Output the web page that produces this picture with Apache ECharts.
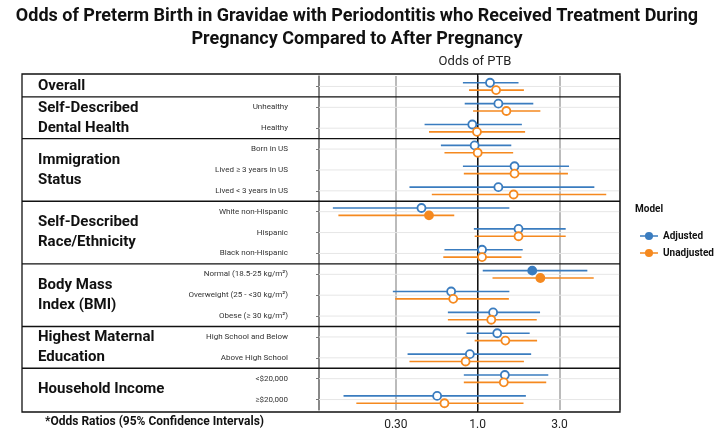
<!DOCTYPE html>
<html>
<head>
<meta charset="utf-8">
<script src="https://cdn.jsdelivr.net/npm/echarts@6/dist/echarts.min.js"></script>
<style>html,body{margin:0;padding:0;background:#fff}#c{width:714px;height:431px}</style>
</head>
<body>
<div id="c"></div>
<script>
// ---------- data ----------
const rowLabels = ['', 'Unhealthy', 'Healthy', 'Born in US', 'Lived \u2265 3 years in US', 'Lived < 3 years in US',
  'White non-Hispanic', 'Hispanic', 'Black non-Hispanic',
  'Normal (18.5-25 kg/m\u00b2)', 'Overweight (25 - <30 kg/m\u00b2)', 'Obese (\u2265 30 kg/m\u00b2)',
  'High School and Below', 'Above High School', '<$20,000', '\u2265$20,000'];
const groupNames = ['Overall', 'Self-Described\nDental Health', 'Immigration\nStatus', 'Self-Described\nRace/Ethnicity',
  'Body Mass\nIndex (BMI)', 'Highest Maternal\nEducation', 'Household Income'];
const groupSizes = [1, 2, 3, 3, 3, 2, 2];

const adjEst = [1.18, 1.32, 0.93, 0.96, 1.64, 1.32, 0.47, 1.73, 1.06, 2.08, 0.70, 1.23, 1.30, 0.90, 1.44, 0.58];
const adjLo  = [0.82, 0.84, 0.49, 0.61, 0.82, 0.40, 0.143, 0.95, 0.64, 1.07, 0.32, 0.67, 0.86, 0.39, 0.83, 0.165];
const adjHi  = [1.73, 2.11, 1.81, 1.57, 3.41, 4.79, 1.53, 3.26, 1.83, 4.36, 1.53, 2.31, 2.01, 2.05, 2.58, 1.91];
const adjSig = [0, 0, 0, 0, 0, 0, 0, 0, 0, 1, 0, 0, 0, 0, 0, 0];

const unadjEst = [1.28, 1.47, 0.99, 1.00, 1.64, 1.62, 0.52, 1.73, 1.06, 2.32, 0.72, 1.20, 1.45, 0.85, 1.42, 0.64];
const unadjLo  = [0.89, 0.94, 0.52, 0.64, 0.83, 0.54, 0.154, 0.96, 0.63, 1.22, 0.33, 0.67, 0.96, 0.40, 0.83, 0.196];
const unadjHi  = [1.86, 2.32, 1.89, 1.61, 3.36, 5.62, 0.73, 3.26, 1.80, 4.75, 1.52, 2.21, 2.22, 1.86, 2.51, 1.85];
const unadjSig = [0, 0, 0, 0, 0, 0, 1, 0, 0, 1, 0, 0, 0, 0, 0, 0];

const tickValues = [1 / 3, 1, 3];
const tickLabels = ['0.30', '1.0', '3.0'];

const seriesNames = ['Adjusted', 'Unadjusted'];
// ---------- style ----------
const BLUE = '#3a7cbf', ORANGE = '#f5891f';
const FONT = 'Roboto';
const G = {left: 319, right: 620, top: 76, bottom: 410};
const FRAME = {left: 22, top: 74, right: 620, bottom: 412};

function build(est, lo, hi, sig) {
  return est.map((e, i) => [i, e, lo[i], hi[i], sig[i]]);
}
const adjData = build(adjEst, adjLo, adjHi, adjSig);
const unadjData = build(unadjEst, unadjLo, unadjHi, unadjSig);

let gStart = 0;
const groupData = groupSizes.map((s, i) => { const d = [gStart, s, i]; gStart += s; return d; });

function makeRender(color, dir) {
  return function (params, api) {
    const cs = params.coordSys;
    const band = cs.height / rowLabels.length;
    const off = dir * band * 0.176;
    const row = api.value(0);
    const pE = api.coord([api.value(1), row]);
    const pL = api.coord([api.value(2), row]);
    const pH = api.coord([api.value(3), row]);
    const y = pE[1] + off;
    const filled = api.value(4) === 1;
    return {
      type: 'group',
      children: [
        {type: 'line', shape: {x1: pL[0], y1: y, x2: pH[0], y2: y}, style: {stroke: color, lineWidth: 1.6}},
        {type: 'circle', shape: {cx: pE[0], cy: y, r: 4}, style: {fill: filled ? color : '#fff', stroke: color, lineWidth: 1.8}}
      ]
    };
  };
}

function renderGroups(params, api) {
  const cs = params.coordSys;
  const band = cs.height / rowLabels.length;
  const start = api.value(0), size = api.value(1), gi = api.value(2);
  const yTop = api.coord([1, start])[1] - band / 2;
  const yBot = yTop + size * band;
  const children = [];
  for (let r = start; r < start + size; r++) {
    const yc = api.coord([1, r])[1];
    children.push({type: 'line', shape: {x1: cs.x, y1: yc, x2: cs.x + cs.width, y2: yc}, style: {stroke: '#e6e6e6', lineWidth: 1}});
  }
  if (gi < groupSizes.length - 1) {
    children.push({type: 'line', shape: {x1: FRAME.left, y1: yBot, x2: FRAME.right, y2: yBot}, style: {stroke: '#111', lineWidth: 1.3}});
  }
  children.push({type: 'text', style: {text: groupNames[gi], x: 38, y: (yTop + yBot) / 2, fill: '#111',
    fontSize: 15, fontWeight: 'bold', fontFamily: FONT, verticalAlign: 'middle', align: 'left', lineHeight: 20}});
  if (gi === 0) {
    const x1 = api.coord([1, 0])[0];
    children.push({type: 'line', shape: {x1: x1, y1: FRAME.top, x2: x1, y2: FRAME.bottom}, style: {stroke: '#111', lineWidth: 1.4}, z2: 5});
  }
  return {type: 'group', children: children};
}

const legendIcon = 'path://M0,4.2h20v1.6h-20z M5.5,5a4.5,4.5 0 1,1 9,0a4.5,4.5 0 1,1 -9,0z';

const chart = echarts.init(document.getElementById('c'), null, {renderer: 'canvas'});
chart.setOption({
  animation: false,
  textStyle: {fontFamily: FONT},
  title: {
    text: 'Odds of Preterm Birth in Gravidae with Periodontitis who Received Treatment During\nPregnancy Compared to After Pregnancy',
    left: 'center', top: 0,
    textStyle: {fontSize: 18, fontWeight: 'bold', color: '#111', lineHeight: 23, fontFamily: FONT}
  },
  legend: {
    orient: 'vertical', left: 635, top: 226, itemGap: 7, itemWidth: 18, itemHeight: 9,
    data: [{name: 'Adjusted', icon: legendIcon}, {name: 'Unadjusted', icon: legendIcon}],
    textStyle: {fontSize: 10, fontWeight: 'bold', color: '#111', fontFamily: FONT}
  },
  graphic: [
    {type: 'rect', shape: {x: FRAME.left, y: FRAME.top, width: FRAME.right - FRAME.left, height: FRAME.bottom - FRAME.top},
      style: {fill: 'none', stroke: '#111', lineWidth: 1.3}, z: 100},
    {type: 'text', style: {text: 'Odds of PTB', x: 475, y: 62, align: 'center', verticalAlign: 'middle', fontSize: 13, fontFamily: FONT, fill: '#222'}},
    {type: 'text', style: {text: '*Odds Ratios (95% Confidence Intervals)', x: 45, y: 422, align: 'left', verticalAlign: 'middle', fontSize: 12, fontWeight: 'bold', fontFamily: FONT, fill: '#111'}},
    {type: 'text', style: {text: 'Model', x: 635, y: 209, align: 'left', verticalAlign: 'middle', fontSize: 10, fontWeight: 'bold', fontFamily: FONT, fill: '#111'}}
  ],
  grid: {left: G.left, top: G.top, width: G.right - G.left, height: G.bottom - G.top, outerBoundsMode: 'none', containLabel: false},
  xAxis: {
    type: 'log', logBase: 3, min: 0.1187, max: 6.76,
    axisLine: {show: false}, axisTick: {show: false},
    axisLabel: {fontSize: 12, color: '#222', margin: 9, showMinLabel: false, showMaxLabel: false,
      formatter: v => { for (let i = 0; i < tickValues.length; i++) if (Math.abs(v - tickValues[i]) < 1e-6) return tickLabels[i]; return ''; }},
    splitLine: {show: true, lineStyle: {color: '#aaaaaa', width: 1.6}}
  },
  yAxis: {
    type: 'category', inverse: true, data: rowLabels,
    axisLine: {show: true, lineStyle: {color: '#777', width: 1.5}},
    axisTick: {show: true, alignWithLabel: true, length: 3, lineStyle: {color: '#777'}},
    axisLabel: {fontSize: 8, color: '#333', margin: 31, fontFamily: FONT},
    splitLine: {show: false}
  },
  series: [
    {type: 'custom', name: 'frame', data: groupData, renderItem: renderGroups, encode: {x: -1, y: 0}, silent: true, z: 1},
    {type: 'custom', name: 'Adjusted', color: BLUE, itemStyle: {color: BLUE}, data: adjData, renderItem: makeRender(BLUE, -1), encode: {x: [1, 2, 3], y: 0}, z: 3},
    {type: 'custom', name: 'Unadjusted', color: ORANGE, itemStyle: {color: ORANGE}, data: unadjData, renderItem: makeRender(ORANGE, 1), encode: {x: [1, 2, 3], y: 0}, z: 3}
  ]
});
</script>
</body>
</html>
